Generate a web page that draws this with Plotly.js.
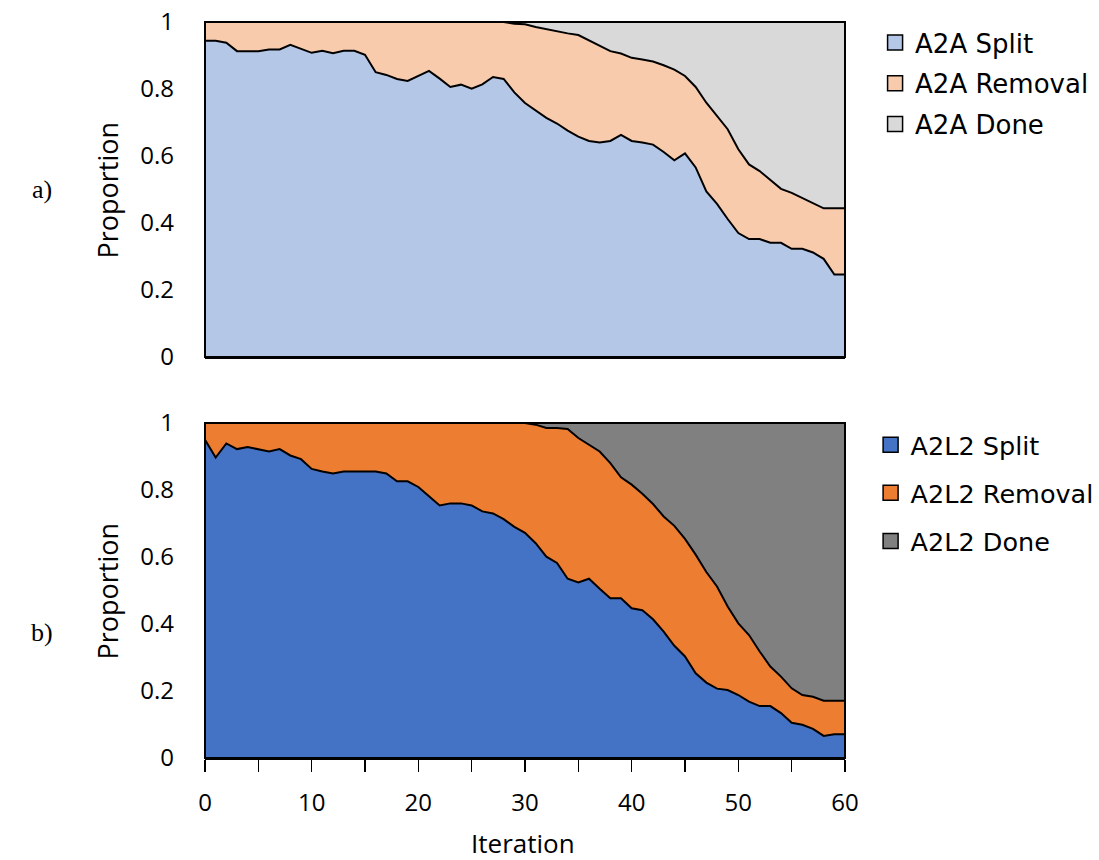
<!DOCTYPE html>
<html>
<head>
<meta charset="utf-8">
<script src="https://cdn.plot.ly/plotly-3.0.1.min.js"></script>
<style>html,body{margin:0;padding:0;background:#fff;}#chart{width:1099px;height:860px;}</style>
</head>
<body>
<div id="chart"></div>
<script>
// Iteration (x categories)
const iterations = [0,1,2,3,4,5,6,7,8,9,10,11,12,13,14,15,16,17,18,19,20,21,22,23,24,25,26,27,28,29,30,31,32,33,34,35,36,37,38,39,40,41,42,43,44,45,46,47,48,49,50,51,52,53,54,55,56,57,58,59,60];

// Panel a) A2A
const a2aSplit = [0.944,0.944,0.938,0.913,0.913,0.913,0.918,0.918,0.932,0.919,0.908,0.914,0.907,0.914,0.914,0.902,0.850,0.842,0.830,0.824,0.838,0.854,0.831,0.806,0.813,0.801,0.814,0.836,0.830,0.790,0.758,0.735,0.714,0.697,0.676,0.658,0.645,0.640,0.645,0.663,0.645,0.640,0.634,0.612,0.587,0.608,0.566,0.494,0.457,0.412,0.370,0.352,0.352,0.341,0.341,0.323,0.323,0.312,0.293,0.246,0.246];
const a2aRemoval = [0.056,0.056,0.062,0.087,0.087,0.087,0.082,0.082,0.068,0.081,0.092,0.086,0.093,0.086,0.086,0.098,0.150,0.158,0.170,0.176,0.162,0.146,0.169,0.194,0.187,0.199,0.186,0.164,0.170,0.205,0.235,0.250,0.264,0.275,0.290,0.303,0.300,0.288,0.268,0.243,0.248,0.248,0.248,0.259,0.271,0.231,0.240,0.265,0.263,0.268,0.250,0.223,0.203,0.187,0.161,0.167,0.152,0.146,0.151,0.198,0.198];
const a2aDone = [0,0,0,0,0,0,0,0,0,0,0,0,0,0,0,0,0,0,0,0,0,0,0,0,0,0,0,0,0,0.005,0.007,0.015,0.022,0.028,0.034,0.039,0.055,0.072,0.087,0.094,0.107,0.112,0.118,0.129,0.142,0.161,0.194,0.241,0.280,0.320,0.380,0.425,0.445,0.472,0.498,0.510,0.525,0.542,0.556,0.556,0.556];

// Panel b) A2L2
const a2l2Split = [0.950,0.897,0.939,0.922,0.928,0.921,0.915,0.922,0.903,0.892,0.863,0.855,0.849,0.855,0.855,0.855,0.855,0.849,0.826,0.826,0.809,0.781,0.754,0.760,0.760,0.754,0.736,0.730,0.713,0.690,0.672,0.641,0.601,0.582,0.535,0.524,0.535,0.505,0.477,0.477,0.447,0.441,0.414,0.377,0.335,0.303,0.253,0.225,0.207,0.203,0.188,0.168,0.155,0.155,0.134,0.105,0.099,0.087,0.066,0.071,0.071];
const a2l2Removal = [0.050,0.103,0.061,0.078,0.072,0.079,0.085,0.078,0.097,0.108,0.137,0.145,0.151,0.145,0.145,0.145,0.145,0.151,0.174,0.174,0.191,0.219,0.246,0.240,0.240,0.246,0.264,0.270,0.287,0.310,0.328,0.354,0.384,0.403,0.447,0.431,0.400,0.410,0.403,0.361,0.369,0.348,0.344,0.344,0.358,0.351,0.354,0.330,0.305,0.249,0.214,0.199,0.163,0.118,0.109,0.103,0.089,0.096,0.105,0.100,0.100];
const a2l2Done = [0,0,0,0,0,0,0,0,0,0,0,0,0,0,0,0,0,0,0,0,0,0,0,0,0,0,0,0,0,0,0,0.005,0.015,0.015,0.018,0.045,0.065,0.085,0.120,0.162,0.184,0.211,0.242,0.279,0.307,0.346,0.393,0.445,0.488,0.548,0.598,0.633,0.682,0.727,0.757,0.792,0.812,0.817,0.829,0.829,0.829];

const namesA = ['A2A Split','A2A Removal','A2A Done'];
const namesB = ['A2L2 Split','A2L2 Removal','A2L2 Done'];
const colorsA = ['#B4C7E7','#F8CBAD','#D9D9D9'];
const colorsB = ['#4472C4','#ED7D31','#808080'];

const FONT = 'Open Sans, sans-serif';
const traces = [];
function addPanel(series, names, colors, xa, ya, grp, legendId) {
  series.forEach((vals, i) => {
    traces.push({
      type: 'scatter', mode: 'lines', x: iterations, y: vals,
      xaxis: xa, yaxis: ya, stackgroup: grp,
      line: {color: '#000000', width: 2, shape: 'linear'},
      fillcolor: colors[i], name: names[i], showlegend: false, hoverinfo: 'x+y+name'
    });
  });
  names.forEach((n, i) => {
    traces.push({
      type: 'scatter', mode: 'markers', x: [null], y: [null],
      xaxis: xa, yaxis: ya, name: n, legend: legendId, legendgroup: grp + i,
      marker: {symbol: 'square', size: 15, color: colors[i], line: {color: '#000000', width: 1.5}},
      showlegend: true
    });
  });
}
addPanel([a2aSplit, a2aRemoval, a2aDone], namesA, colorsA, 'x', 'y', 'a', 'legend');
addPanel([a2l2Split, a2l2Removal, a2l2Done], namesB, colorsB, 'x2', 'y2', 'b', 'legend2');

const yCommon = {
  range: [0, 1], dtick: 0.2, tick0: 0, showgrid: false, zeroline: false,
  showline: false, ticks: '', ticklabelstandoff: 30,
  tickfont: {family: FONT, size: 24, color: '#000'}, fixedrange: true
};
const layout = {
  width: 1099, height: 860,
  margin: {l: 205, r: 254, t: 22, b: 102, autoexpand: false},
  paper_bgcolor: '#ffffff', plot_bgcolor: '#ffffff',
  font: {family: FONT, color: '#000'},
  showlegend: true,
  xaxis: {domain: [0, 1], anchor: 'y', range: [0, 60], showticklabels: false, ticks: '',
          showgrid: false, zeroline: false, showline: true, linecolor: '#000', linewidth: 2, automargin: false},
  yaxis: Object.assign({domain: [0.5448, 1], anchor: 'x'}, yCommon),
  xaxis2: {domain: [0, 1], anchor: 'y2', range: [0, 60], dtick: 10, tick0: 0,
           ticks: 'outside', ticklen: 12, tickwidth: 1.5, tickcolor: '#000',
           minor: {dtick: 5, tick0: 0, ticks: 'outside', ticklen: 12, tickwidth: 1.5, tickcolor: '#000', showgrid: false},
           ticklabelstandoff: 10, automargin: false,
           tickfont: {family: FONT, size: 24, color: '#000'},
           showgrid: false, zeroline: false, showline: true, linecolor: '#000', linewidth: 2},
  yaxis2: Object.assign({domain: [0, 0.4552], anchor: 'x2'}, yCommon),
  legend: {x: 1.047, xanchor: 'left', y: 1.004, yanchor: 'top', traceorder: 'grouped',
           tracegroupgap: 4, bgcolor: 'rgba(0,0,0,0)',
           font: {family: 'DejaVu Sans, sans-serif', size: 26, color: '#000'}},
  legend2: {x: 1.04, xanchor: 'left', y: 0.457, yanchor: 'top', traceorder: 'grouped',
            tracegroupgap: 12, bgcolor: 'rgba(0,0,0,0)',
            font: {family: 'DejaVu Sans, sans-serif', size: 25.5, color: '#000'}},
  shapes: [
    {type: 'rect', xref: 'x domain', yref: 'y domain', x0: 0, x1: 1, y0: 0, y1: 1,
     line: {color: '#000', width: 2}, fillcolor: 'rgba(0,0,0,0)', layer: 'above'},
    {type: 'rect', xref: 'x2 domain', yref: 'y2 domain', x0: 0, x1: 1, y0: 0, y1: 1,
     line: {color: '#000', width: 2}, fillcolor: 'rgba(0,0,0,0)', layer: 'above'}
  ],
  annotations: [
    {text: 'Proportion', textangle: -90, xref: 'paper', yref: 'y domain', x: -0.1516, y: 0.5,
     xanchor: 'center', yanchor: 'middle', showarrow: false, font: {family: FONT, size: 27, color: '#000'}},
    {text: 'Proportion', textangle: -90, xref: 'paper', yref: 'y2 domain', x: -0.1516, y: 0.5,
     xanchor: 'center', yanchor: 'middle', showarrow: false, font: {family: FONT, size: 27, color: '#000'}},
    {text: 'Iteration', xref: 'paper', yref: 'paper', x: 0.497, y: -0.116,
     xanchor: 'center', yanchor: 'middle', showarrow: false, font: {family: FONT, size: 26, color: '#000'}},
    {text: 'a)', xref: 'paper', yref: 'paper', x: -0.255, y: 0.773,
     xanchor: 'center', yanchor: 'middle', showarrow: false, font: {family: 'Liberation Serif, serif', size: 26, color: '#000'}},
    {text: 'b)', xref: 'paper', yref: 'paper', x: -0.255, y: 0.171,
     xanchor: 'center', yanchor: 'middle', showarrow: false, font: {family: 'Liberation Serif, serif', size: 26, color: '#000'}}
  ]
};
Plotly.newPlot('chart', traces, layout, {displayModeBar: false, staticPlot: true});
</script>
</body>
</html>
